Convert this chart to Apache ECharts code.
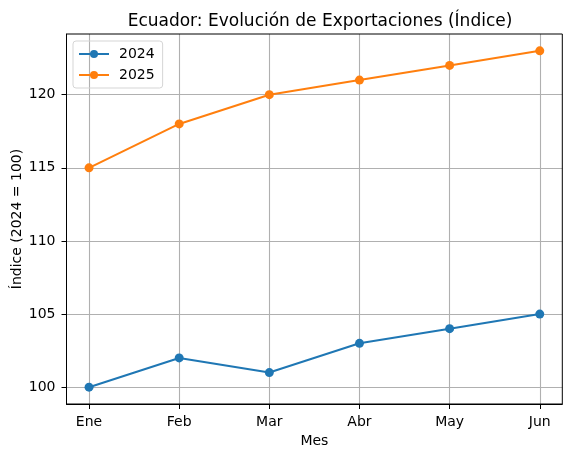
<!DOCTYPE html>
<html><head><meta charset="utf-8">
<script src="https://cdn.jsdelivr.net/npm/echarts@6/dist/echarts.min.js"></script>
<style>html,body{margin:0;padding:0;background:#fff}#c{width:572px;height:457px}</style>
</head><body><div id="c"></div>
<script>
const categories = ['Ene','Feb','Mar','Abr','May','Jun'];
const values2024 = [100, 102, 101, 103, 104, 105];
const values2025 = [115, 118, 120, 121, 122, 123];
const yTicks = [100, 105, 110, 115, 120];

const F = 'DejaVu Sans';
const chart = echarts.init(document.getElementById('c'), null, {renderer:'canvas'});
const xIdx = categories.map((c,i)=>i);
const gridColor = '#b0b0b0';
chart.setOption({
  animation:false,
  textStyle:{fontFamily:F},
  title:{text:'Ecuador: Evolución de Exportaciones (Índice)', left:315, top:8, textAlign:'center',
    textStyle:{fontFamily:F, fontSize:17, fontWeight:'normal', color:'#000'}},
  grid:{left:66.5, right:9.7, top:34, bottom:53, outerBoundsMode:'none', containLabel:false},
  legend:{left:73, top:41, orient:'vertical', itemWidth:30, itemHeight:10, itemGap:7,
    padding:[6,8,6,5], borderColor:'#d5d5d5', borderWidth:1, borderRadius:3,
    textStyle:{fontFamily:F, fontSize:14, color:'#000', padding:[0,0,0,5]}, data:['2024','2025']},
  xAxis:{type:'value', min:-0.25, max:5.25, name:'Mes', nameLocation:'middle', nameGap:30, nameMoveOverlap:false,
    nameTextStyle:{fontFamily:F, fontSize:14, color:'#000'},
    axisLine:{show:true, onZero:false, lineStyle:{color:'#000', width:1}},
    axisTick:{show:true, inside:false, length:5, customValues:xIdx, lineStyle:{color:'#000'}},
    axisLabel:{customValues:xIdx, formatter:v=>categories[Math.round(v)], fontFamily:F, fontSize:14, color:'#000', margin:11},
    splitLine:{show:false}},
  yAxis:{type:'value', min:98.85, max:124.15, name:'Índice (2024 = 100)', nameLocation:'middle', nameGap:42, nameMoveOverlap:false, nameRotate:90,
    nameTextStyle:{fontFamily:F, fontSize:14, color:'#000'},
    axisLine:{show:true, onZero:false, lineStyle:{color:'#000', width:1}},
    axisTick:{show:true, inside:false, length:5, customValues:yTicks, lineStyle:{color:'#000'}},
    axisLabel:{customValues:yTicks, fontFamily:F, fontSize:14, color:'#000', margin:11},
    splitLine:{show:false}},
  graphic:[{type:'rect', shape:{x:66.5, y:34, width:572-9.7-66.5, height:457-53-34}, style:{fill:'none', stroke:'#000', lineWidth:1}, z:10, silent:true}],
  series:[
    {type:'line', name:'_grid', data:[], silent:true, z:1,
      markLine:{silent:true, z:1, symbol:'none', label:{show:false}, animation:false,
        lineStyle:{color:gridColor, width:1.1, type:'solid'},
        data: yTicks.map(v=>({yAxis:v})).concat(xIdx.map(v=>({xAxis:v})))}},
    {type:'line', name:'2024', data:xIdx.map(i=>[i, values2024[i]]), z:3,
      symbol:'circle', symbolSize:9, showAllSymbol:true,
      lineStyle:{color:'#1f77b4', width:2}, itemStyle:{color:'#1f77b4'}},
    {type:'line', name:'2025', data:xIdx.map(i=>[i, values2025[i]]), z:3,
      symbol:'circle', symbolSize:9, showAllSymbol:true,
      lineStyle:{color:'#ff7f0e', width:2}, itemStyle:{color:'#ff7f0e'}}
  ]
});
</script></body></html>
